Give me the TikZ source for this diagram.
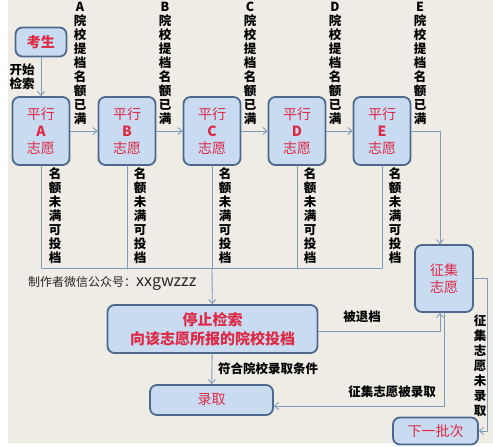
\documentclass[tikz,border=0pt]{standalone}
\usepackage{fontspec}
\setmainfont{Noto Sans CJK SC}
\usetikzlibrary{arrows.meta}
\definecolor{nen}{HTML}{EFECE5}
\definecolor{nenhop}{HTML}{C9DBF0}
\definecolor{vien}{HTML}{4D6A8E}
\definecolor{chudo}{HTML}{DC2A46}
\definecolor{duong}{HTML}{7F9BBB}
\begin{document}
\begin{tikzpicture}[x=1pt, y=-1pt, line join=round, line cap=round, >={Straight Barb[length=4pt,width=7pt]},
	hop/.style={draw=vien, line width=1.8pt, fill=nenhop, rounded corners=7pt, text=chudo, align=center, inner sep=0pt, font=\fontsize{14}{17}\selectfont},
	nhan/.style={font=\bfseries\fontsize{12.5}{14}\selectfont, align=center, inner sep=0pt},
	noi/.style={draw=duong, line width=0.9pt}]
	\useasboundingbox (0,0) rectangle (493,447);
	\fill[white] (0,0) rectangle (493,447);
	\fill[nen] (8,0) rectangle (493,443);
	% cac hop
	\node[hop, minimum width=51, minimum height=29, font=\bfseries\fontsize{14}{17}\selectfont] (ks) at (41,42) {考生};
	\foreach \t/\x in {A/41,B/127,C/212,D/297,E/382}{
		\node[hop, minimum width=57, minimum height=68] (\t) at (\x,131) {平行\\\textbf{\t}\\志愿};
	}
	\node[hop, minimum width=210, minimum height=48, font=\bfseries\fontsize{15}{19}\selectfont] (tz) at (212.5,329) {停止检索\\向该志愿所报的院校投档};
	\node[hop, minimum width=123, minimum height=30] (lq) at (211.5,400) {录取};
	\node[hop, minimum width=58, minimum height=67] (zj) at (444,278.5) {征集\\志愿};
	\node[hop, minimum width=85, minimum height=27] (xp) at (435.5,431) {下一批次};
	% duong noi
	\draw[noi,->] (ks) -- (A);
	\foreach \a/\b in {A/B,B/C,C/D,D/E}{
		\draw[noi,->] (\a) -- (\b);
	}
	\draw[noi] (A.south) -- ++(0,103) -| (E.south);
	\foreach \t in {B,C,D}{
		\draw[noi] (\t.south) -- ++(0,103);
	}
	\coordinate (bus) at (212,268);
	\draw[noi,->] (bus) -- (tz);
	\draw[noi,->] (tz) -- (lq);
	\draw[noi,->] (E.east) -| ([xshift=-4pt]zj.north);
	\draw[noi,->] ([yshift=-2pt]tz.east) -| ([xshift=-4pt]zj.south);
	\draw[noi,->] (zj.south) |- ([yshift=-6pt]lq.east);
	\draw[noi,->] (zj.east) -- ++(14,0) |- (xp.east);
	% nhan
	\node[nhan] (lks) at (22,77) {开始\\检索};
	\foreach \t/\x in {A/80,B/165,C/250,D/335,E/420}{
		\node[nhan, anchor=north] (l\t) at (\x,2) {\t\\院\\校\\提\\档\\名\\额\\已\\满};
		\node[nhan, anchor=north] (m\t) at (\x-25,168) {名\\额\\未\\满\\可\\投\\档};
	}
	\node[nhan] (ltd) at (362,317) {被退档};
	\node[nhan, anchor=west] (lfh) at (218,369) {符合院校录取条件};
	\node[nhan] (lzl) at (392,392) {征集志愿被录取};
	\node[nhan, font=\bfseries\fontsize{12.5}{15}\selectfont] (lzw) at (480,366) {征\\集\\志\\愿\\未\\录\\取};
	\node[anchor=west, inner sep=0pt, text=black!85] (tg) at (28,283) {\fontsize{12}{14}\selectfont 制作者微信公众号：\fontsize{16}{18}\selectfont xxgwzzz};
\end{tikzpicture}
\end{document}
